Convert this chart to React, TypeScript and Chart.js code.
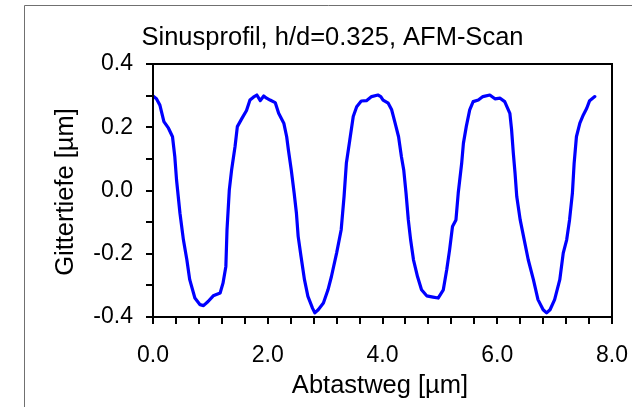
import React, { useEffect, useRef } from "react";
import { Chart, registerables } from "chart.js";

Chart.register(...registerables);

const chartTitle = "Sinusprofil, h/d=0.325, AFM-Scan";
const xAxisTitle = "Abtastweg [µm]";
const yAxisTitle = "Gittertiefe [µm]";

const scanX: number[] = [
  0.0, 0.06, 0.12, 0.19, 0.27, 0.34, 0.38, 0.41, 0.47, 0.53, 0.59, 0.64, 0.73, 0.82, 0.88, 0.96,
  1.05, 1.17, 1.22, 1.27, 1.29, 1.33, 1.37, 1.43, 1.47, 1.55, 1.63, 1.69, 1.75, 1.81, 1.87, 1.93,
  1.98, 2.04, 2.13, 2.19, 2.28, 2.33, 2.36, 2.41, 2.46, 2.5, 2.53, 2.58, 2.64, 2.7, 2.78, 2.82,
  2.88, 2.97, 3.05, 3.11, 3.2, 3.28, 3.33, 3.37, 3.43, 3.49, 3.55, 3.63, 3.72, 3.81, 3.92, 3.97,
  4.01, 4.1, 4.16, 4.22, 4.28, 4.33, 4.37, 4.41, 4.45, 4.49, 4.54, 4.61, 4.68, 4.77, 4.88, 4.97,
  5.06, 5.12, 5.17, 5.22, 5.28, 5.32, 5.38, 5.41, 5.46, 5.52, 5.58, 5.67, 5.75, 5.87, 5.96, 6.05,
  6.13, 6.22, 6.25, 6.28, 6.31, 6.34, 6.4, 6.47, 6.54, 6.63, 6.71, 6.8, 6.86, 6.92, 7.0, 7.09,
  7.15, 7.21, 7.26, 7.31, 7.34, 7.38, 7.44, 7.5, 7.56, 7.61, 7.7,
];

const depthY: number[] = [
  0.299, 0.29, 0.27, 0.218, 0.197, 0.17, 0.107, 0.034, -0.072, -0.156, -0.219, -0.282, -0.34, -0.361, -0.364, -0.351,
  -0.333, -0.324, -0.293, -0.24, -0.124, 0.002, 0.065, 0.139, 0.202, 0.228, 0.253, 0.286, 0.295, 0.302, 0.284, 0.299,
  0.292, 0.286, 0.278, 0.244, 0.213, 0.17, 0.128, 0.065, -0.008, -0.072, -0.145, -0.209, -0.282, -0.335, -0.372, -0.387,
  -0.377, -0.356, -0.314, -0.272, -0.198, -0.124, -0.019, 0.086, 0.16, 0.234, 0.265, 0.283, 0.284, 0.297, 0.302, 0.297,
  0.286, 0.276, 0.255, 0.213, 0.17, 0.107, 0.065, -0.008, -0.093, -0.156, -0.219, -0.272, -0.314, -0.333, -0.337, -0.34,
  -0.314, -0.25, -0.187, -0.114, -0.093, -0.008, 0.086, 0.149, 0.202, 0.255, 0.281, 0.286, 0.297, 0.302, 0.29, 0.292,
  0.281, 0.244, 0.192, 0.118, 0.055, -0.019, -0.093, -0.156, -0.219, -0.282, -0.345, -0.377, -0.387, -0.377, -0.345, -0.282,
  -0.198, -0.156, -0.093, -0.008, 0.086, 0.17, 0.213, 0.239, 0.26, 0.284, 0.297,
];

const xMin = 0;
const xMax = 8;
const xMinorStep = 0.4;
const xMajorStep = 2;
const yMin = -0.4;
const yMax = 0.4;
const yMinorStep = 0.1;
const yMajorStep = 0.2;

const FONT = "'Liberation Sans', Arial, Helvetica, sans-serif";

const isMajor = (v: number, step: number) => Math.abs(v / step - Math.round(v / step)) < 1e-6;

export default function App() {
  const ref = useRef<HTMLCanvasElement | null>(null);

  useEffect(() => {
    const canvas = ref.current;
    if (!canvas) return;

    const decor = {
      id: "decor",
      afterDraw(chart: any) {
        const { ctx, chartArea } = chart;
        ctx.save();
        // outer frame
        ctx.strokeStyle = "#707070";
        ctx.lineWidth = 1;
        ctx.beginPath();
        ctx.moveTo(24.5, 407);
        ctx.lineTo(24.5, 5.5);
        ctx.lineTo(632, 5.5);
        ctx.stroke();
        // plot box
        ctx.strokeStyle = "#000";
        ctx.lineWidth = 2;
        ctx.strokeRect(chartArea.left, chartArea.top, chartArea.right - chartArea.left, chartArea.bottom - chartArea.top);
        // titles
        ctx.fillStyle = "#000";
        ctx.textAlign = "center";
        ctx.textBaseline = "alphabetic";
        ctx.font = `25.5px ${FONT}`;
        ctx.fillText(chartTitle, 332.5, 45);
        ctx.fillText(xAxisTitle, 380, 393);
        ctx.translate(73, 192);
        ctx.rotate(-Math.PI / 2);
        ctx.fillText(yAxisTitle, 0, 0);
        ctx.restore();
      },
    };

    const chart = new Chart(canvas, {
      type: "line",
      data: {
        datasets: [
          {
            data: scanX.map((x, i) => ({ x, y: depthY[i] })),
            borderColor: "#0000ff",
            borderWidth: 3.2,
            pointRadius: 0,
            tension: 0,
            fill: false,
            borderJoinStyle: "round",
            borderCapStyle: "round",
          },
        ],
      },
      options: {
        animation: false,
        responsive: false,
        maintainAspectRatio: false,
        devicePixelRatio: 1,
        layout: { padding: { top: 64, right: 20, left: 0, bottom: 0 } },
        plugins: { legend: { display: false }, title: { display: false }, tooltip: { enabled: false } },
        scales: {
          x: {
            type: "linear",
            min: xMin,
            max: xMax,
            afterFit: (s: any) => {
              s.height = 90;
              s.paddingLeft = 0;
              s.paddingRight = 0;
            },
            afterBuildTicks: (s: any) => {
              const t = [];
              for (let v = xMin; v <= xMax + 1e-9; v += xMinorStep) t.push({ value: Math.round(v * 10) / 10 });
              s.ticks = t;
            },
            ticks: {
              autoSkip: false,
              maxRotation: 0,
              padding: 18,
              color: "#000",
              font: { family: FONT, size: 23 },
              callback: (v: any) => (isMajor(Number(v), xMajorStep) ? Number(v).toFixed(1) : ""),
            },
            grid: { drawOnChartArea: false, drawTicks: true, tickLength: 7, color: "#000", lineWidth: 2 },
            border: { display: true, color: "#000", width: 2 },
          },
          y: {
            type: "linear",
            min: yMin,
            max: yMax,
            afterFit: (s: any) => {
              s.width = 153;
              s.paddingTop = 0;
              s.paddingBottom = 0;
            },
            afterBuildTicks: (s: any) => {
              const t = [];
              for (let i = 0; i <= Math.round((yMax - yMin) / yMinorStep); i++)
                t.push({ value: Math.round((yMin + i * yMinorStep) * 10) / 10 });
              s.ticks = t;
            },
            ticks: {
              autoSkip: false,
              padding: 13,
              color: "#000",
              font: { family: FONT, size: 23 },
              callback: (v: any) => (isMajor(Number(v), yMajorStep) ? Number(v).toFixed(1) : ""),
            },
            grid: { drawOnChartArea: false, drawTicks: true, tickLength: 7, color: "#000", lineWidth: 2 },
            border: { display: true, color: "#000", width: 2 },
          },
        },
      },
      plugins: [decor],
    } as any);

    return () => chart.destroy();
  }, []);

  return (
    <div style={{ position: "absolute", left: 0, top: 0, width: 632, height: 407, background: "#fff" }}>
      <canvas ref={ref} width={632} height={407} style={{ width: 632, height: 407, display: "block" }} />
    </div>
  );
}
